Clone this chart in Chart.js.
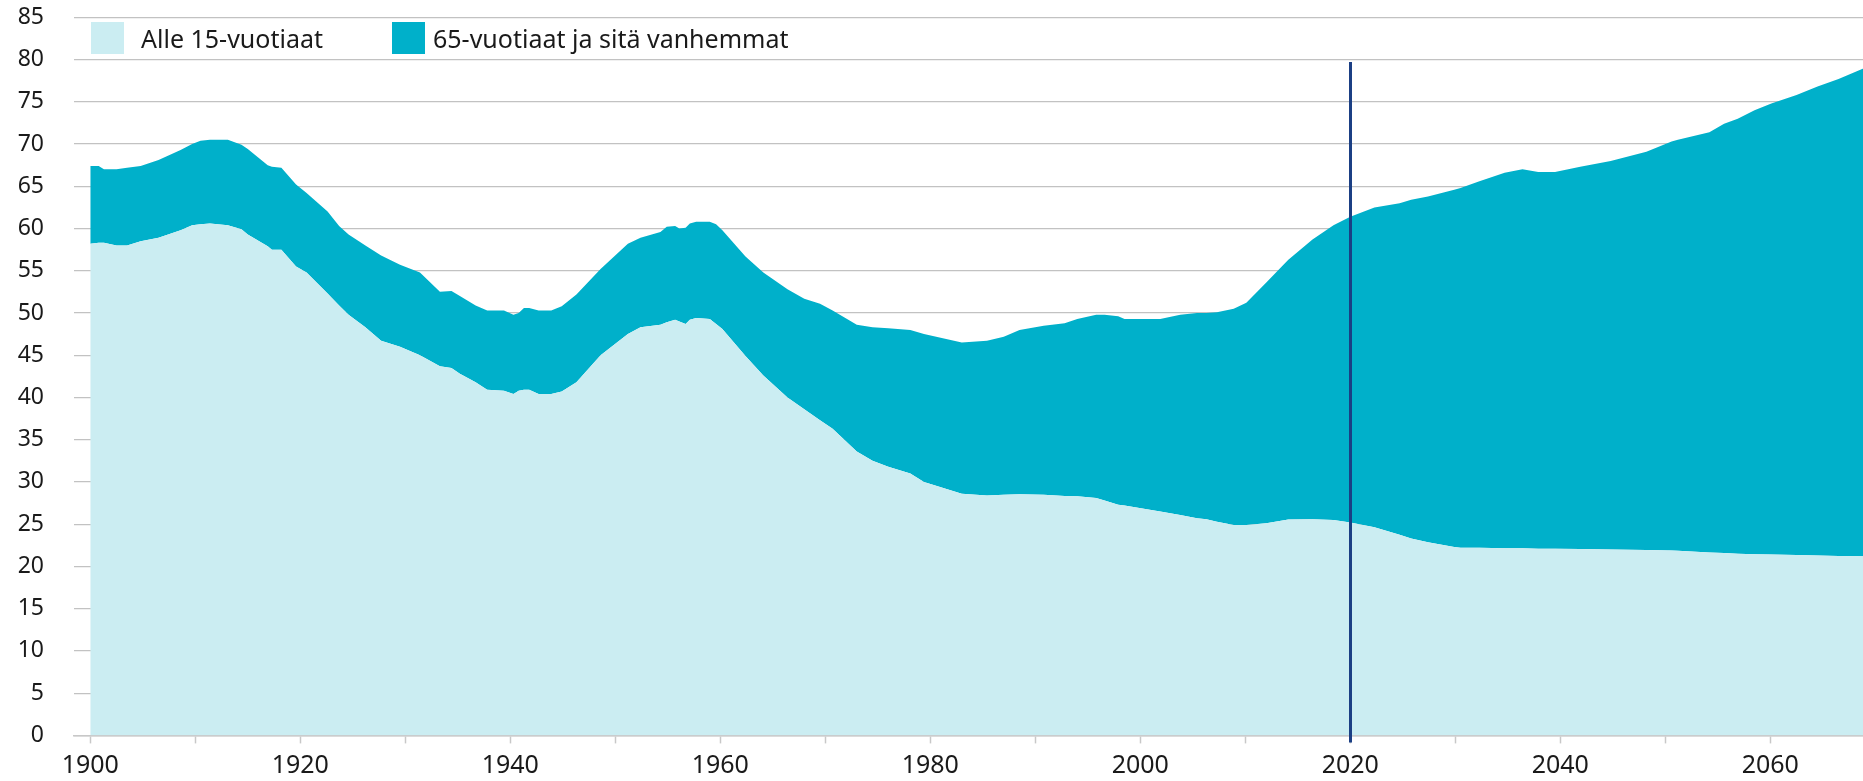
<!DOCTYPE html>
<html>
<head>
<meta charset="utf-8">
<script src="https://cdn.jsdelivr.net/npm/chart.js@4/dist/chart.umd.min.js"></script>
<style>
  body { margin: 0; background: #fff; }
  #wrap { position: relative; width: 1863px; height: 781px; }
  .legend { position: absolute; top: 22px; font-family: "Noto Sans", sans-serif; font-size: 25px; color: #1a1a1a; }
  .legend .box { position: absolute; top: 0; width: 33px; height: 32px; }
  .legend span.label { position: absolute; top: -1px; white-space: nowrap; line-height: 34px; }
</style>
</head>
<body>
<div id="wrap">
  <canvas id="chart" width="1863" height="781"></canvas>
  <div class="legend" style="left:91px">
    <div class="box" style="background:#cbedf2"></div>
    <span class="label" style="left:50px">Alle 15-vuotiaat</span>
  </div>
  <div class="legend" style="left:392px">
    <div class="box" style="background:#00b0ca"></div>
    <span class="label" style="left:41px">65-vuotiaat ja sitä vanhemmat</span>
  </div>
</div>
<script>
// years (x positions) shared by both series
const years = [
  1900, 1900.8, 1901.3, 1902.5, 1903.5, 1904.8, 1906.5, 1908.6, 1909.7, 1910.5,
  1911.4, 1913.1, 1914.4, 1915, 1916.9, 1917.3, 1918.2, 1919.6, 1920.6, 1922.6,
  1923.7, 1924.6, 1926.2, 1927.7, 1929.5, 1931.4, 1933.3, 1934.4, 1935.2, 1936.7,
  1937.8, 1939.4, 1940.3, 1940.8, 1941.3, 1941.8, 1942.7, 1943.9, 1944.9, 1946.3,
  1948.6, 1951.2, 1952.4, 1954.3, 1954.9, 1955.7, 1956.1, 1956.7, 1957.1, 1957.7,
  1959, 1959.6, 1960.2, 1962.4, 1964.1, 1966.4, 1968, 1969.5, 1970.7, 1973,
  1974.5, 1976, 1978.1, 1979.4, 1983, 1985.4, 1987, 1988.5, 1990.8, 1992.8,
  1994, 1995.8, 1996.6, 1997.9, 1998.5, 2000.9, 2001.9, 2003.8, 2005.4, 2006.3,
  2007.3, 2008.9, 2010.1, 2012, 2014.1, 2016.4, 2018.4, 2020, 2022.3, 2024.7,
  2025.8, 2027.4, 2029.9, 2030.5, 2032.3, 2034.7, 2036.4, 2037.9, 2039.5, 2041.9,
  2044.8, 2048.2, 2050.6, 2051.2, 2054.2, 2055.6, 2056.9, 2058.5, 2060.1, 2062.5,
  2064.5, 2066.5, 2068.8, 2070
];

// Alle 15-vuotiaat
const under15 = [
  58.2, 58.3, 58.3, 58.0, 58.0, 58.5, 58.9, 59.8, 60.4, 60.5,
  60.6, 60.4, 59.9, 59.3, 57.9, 57.5, 57.5, 55.5, 54.8, 52.3,
  50.9, 49.8, 48.3, 46.7, 46.0, 45.0, 43.7, 43.5, 42.8, 41.8,
  40.9, 40.8, 40.4, 40.8, 40.9, 40.9, 40.4, 40.4, 40.7, 41.8,
  45.0, 47.5, 48.3, 48.6, 48.9, 49.2, 49.0, 48.7, 49.2, 49.4,
  49.3, 48.7, 48.1, 44.9, 42.6, 40.0, 38.6, 37.3, 36.3, 33.6,
  32.5, 31.8, 31.0, 30.0, 28.6, 28.4, 28.5, 28.55, 28.5, 28.35,
  28.3, 28.1, 27.8, 27.3, 27.2, 26.7, 26.5, 26.1, 25.7, 25.6,
  25.3, 24.9, 24.9, 25.1, 25.55, 25.6, 25.5, 25.2, 24.65, 23.75,
  23.3, 22.85, 22.3, 22.2, 22.2, 22.15, 22.15, 22.1, 22.1, 22.05,
  22.0, 21.95, 21.9, 21.85, 21.65, 21.6, 21.5, 21.45, 21.4, 21.35,
  21.3, 21.25, 21.2, 21.15
];

// 65-vuotiaat ja sitä vanhemmat (stacked on top of under15)
const over65 = [
  9.2, 9.1, 8.7, 9.0, 9.2, 8.9, 9.2, 9.5, 9.6, 9.9,
  9.9, 10.1, 10.0, 10.1, 9.6, 9.8, 9.7, 9.7, 9.4, 9.7,
  9.4, 9.5, 9.7, 10.1, 9.7, 9.8, 8.8, 9.1, 9.2, 9.1,
  9.4, 9.5, 9.4, 9.2, 9.7, 9.7, 9.9, 9.9, 10.1, 10.4,
  10.2, 10.7, 10.6, 11.0, 11.3, 11.1, 11.0, 11.4, 11.4, 11.4,
  11.5, 11.8, 11.7, 11.8, 12.2, 12.8, 13.1, 13.8, 14.0, 15.0,
  15.8, 16.4, 17.0, 17.5, 17.9, 18.3, 18.7, 19.45, 20.0, 20.45,
  21.0, 21.7, 22.0, 22.3, 22.1, 22.6, 22.8, 23.7, 24.3, 24.4,
  24.8, 25.6, 26.3, 28.5, 30.75, 33.1, 34.9, 36.2, 37.85, 39.25,
  40.1, 40.95, 42.3, 42.6, 43.4, 44.45, 44.85, 44.6, 44.6, 45.25,
  46.0, 47.15, 48.4, 48.65, 49.75, 50.8, 51.5, 52.55, 53.4, 54.45,
  55.5, 56.45, 57.7, 58.35
];

const seriesLabels = ['Alle 15-vuotiaat', '65-vuotiaat ja sitä vanhemmat'];
const yTicks = { min: 0, max: 85, step: 5 };
const xTicks = { min: 1898.45, max: 2068.83, step: 10, labelEvery: 20 };

// vertical marker at the last statistics year
const markerYear = 2020;
const markerTop = 79.7;

const FONT = '"Noto Sans", sans-serif';

const markerLine = {
  id: 'markerLine',
  afterDraw(chart) {
    const { ctx, scales: { x, y } } = chart;
    const px = Math.round(x.getPixelForValue(markerYear)) + 0.5;
    ctx.save();
    ctx.strokeStyle = '#1b3f84';
    ctx.lineWidth = 3;
    ctx.beginPath();
    ctx.moveTo(px, y.getPixelForValue(markerTop));
    ctx.lineTo(px, y.getPixelForValue(0) + 7);
    ctx.stroke();
    ctx.restore();
  }
};

const toPoints = (vals) => vals.map((v, i) => ({ x: years[i], y: v }));

new Chart(document.getElementById('chart'), {
  type: 'line',
  data: {
    datasets: [
      {
        label: seriesLabels[0],
        data: toPoints(under15),
        backgroundColor: '#cbedf2',
        borderWidth: 0,
        pointRadius: 0,
        fill: 'origin',
        tension: 0
      },
      {
        label: seriesLabels[1],
        data: toPoints(over65),
        backgroundColor: '#00b0ca',
        borderWidth: 0,
        pointRadius: 0,
        fill: '-1',
        tension: 0
      }
    ]
  },
  plugins: [markerLine],
  options: {
    responsive: false,
    animation: false,
    layout: { padding: { top: 17.3, right: 0, bottom: 0, left: 0 } },
    plugins: {
      legend: { display: false },
      tooltip: { enabled: false }
    },
    scales: {
      x: {
        type: 'linear',
        min: xTicks.min,
        max: xTicks.max,
        afterFit: (s) => { s.height = 45.6; },
        grid: {
          drawOnChartArea: false,
          drawTicks: true,
          tickLength: 8,
          tickColor: '#c8c8c8',
          tickWidth: 1.5
        },
        border: { display: true, color: '#c8c8c8', width: 1.5 },
        ticks: {
          stepSize: xTicks.step,
          includeBounds: false,
          autoSkip: false,
          maxRotation: 0,
          padding: 7,
          color: '#1a1a1a',
          font: { family: FONT, size: 25 },
          callback: (v) => (v % xTicks.labelEvery === 0 ? String(v) : '')
        }
      },
      y: {
        stacked: true,
        min: yTicks.min,
        max: yTicks.max,
        z: 1,
        afterFit: (s) => {
          s.width = 74;
          // the big label gap would otherwise push the plot down
          s.paddingTop = 0;
          s.paddingBottom = 0;
        },
        grid: {
          color: '#c2c2c2',
          lineWidth: 1.3,
          drawTicks: false
        },
        border: { display: false },
        ticks: {
          stepSize: yTicks.step,
          padding: 30,
          color: '#1a1a1a',
          font: { family: FONT, size: 23 }
        }
      }
    }
  }
});
</script>
</body>
</html>
